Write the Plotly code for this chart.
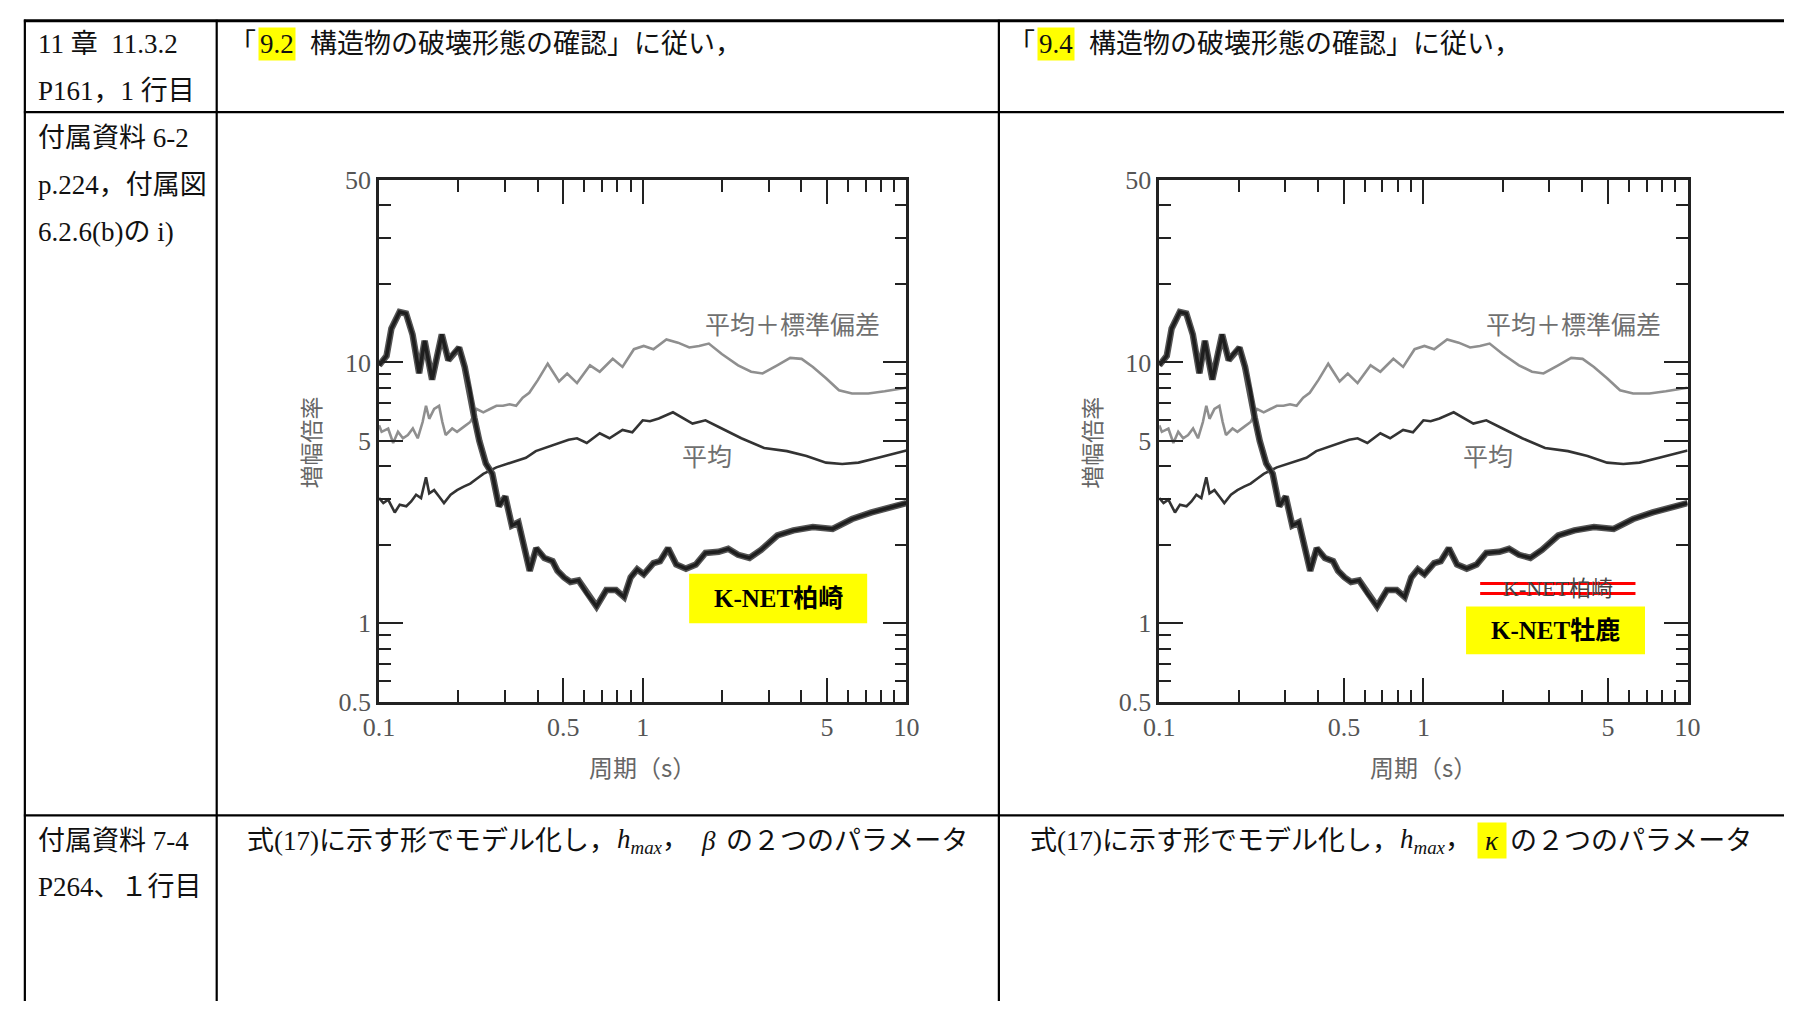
import math
import plotly.graph_objects as go

W, H = 1797, 1016

# ---- data (period [s], amplification) ----
period_msd = [0.1, 0.1023, 0.1083, 0.1131, 0.118, 0.1232, 0.1286, 0.1343, 0.1402, 0.1463,
              0.1507, 0.155, 0.1618, 0.1689, 0.1738, 0.1789, 0.1894, 0.1976, 0.2094, 0.2218,
              0.2347, 0.2486, 0.2634, 0.2787, 0.2952, 0.3127, 0.331, 0.3506, 0.3713, 0.4006,
              0.4362, 0.4816, 0.5172, 0.5634, 0.631, 0.687, 0.7696, 0.838, 0.926, 1.009,
              1.098, 1.23, 1.36, 1.502, 1.636, 1.781, 1.995, 2.30, 2.577, 2.848,
              3.236, 3.625, 4.005, 4.42, 4.957, 5.55, 6.22, 7.17, 8.27, 10.0]
amp_msd = [5.74, 5.42, 5.58, 4.91, 5.42, 5.12, 5.27, 5.58, 5.12, 5.91,
           6.82, 6.08, 6.63, 6.82, 5.91, 5.27, 5.58, 5.42, 5.66, 5.91,
           6.63, 6.44, 6.63, 6.82, 6.82, 6.91, 6.82, 7.32, 7.65, 8.57,
           9.89, 8.45, 9.07, 8.33, 9.75, 9.21, 10.32, 9.61, 11.24, 11.57,
           11.24, 12.25, 11.91, 11.41, 11.57, 11.81, 10.77, 9.75, 9.21, 9.07,
           9.75, 10.41, 10.32, 9.61, 8.70, 7.82, 7.60, 7.60, 7.75, 8.0]

period_mean = [0.1, 0.1038, 0.1083, 0.1147, 0.1198, 0.1269, 0.1324, 0.1382, 0.1443, 0.1507,
               0.155, 0.1618, 0.1689, 0.1763, 0.1868, 0.1976, 0.2094, 0.2218, 0.2347, 0.2486,
               0.2787, 0.3037, 0.331, 0.3607, 0.393, 0.4283, 0.4667, 0.5236, 0.5634, 0.6135,
               0.687, 0.748, 0.838, 0.913, 1.0, 1.065, 1.15, 1.302, 1.545, 1.73,
               1.995, 2.366, 2.887, 3.524, 4.18, 4.957, 5.71, 6.58, 7.81, 10.0]
amp_mean = [3.02, 2.89, 2.98, 2.66, 2.85, 2.81, 2.93, 3.11, 3.02, 3.63,
            3.15, 3.24, 3.06, 2.89, 3.11, 3.24, 3.34, 3.43, 3.58, 3.74,
            3.96, 4.08, 4.19, 4.31, 4.57, 4.70, 4.84, 5.05, 5.12, 4.91,
            5.35, 5.12, 5.51, 5.40, 6.00, 5.95, 6.10, 6.44, 5.83, 6.00,
            5.58, 5.12, 4.70, 4.57, 4.38, 4.13, 4.08, 4.13, 4.31, 4.60]

period_site = [0.1, 0.1068, 0.1114, 0.1196, 0.1266, 0.134, 0.1419, 0.1489, 0.1589, 0.173,
               0.1832, 0.1912, 0.2012, 0.2113, 0.2205, 0.2301, 0.2401, 0.254, 0.2689, 0.2847,
               0.3012, 0.3189, 0.3377, 0.3728, 0.3948, 0.4236, 0.455, 0.475, 0.5025, 0.532,
               0.571, 0.6135, 0.668, 0.7275, 0.792, 0.85, 0.9, 0.953, 1.009, 1.098,
               1.163, 1.248, 1.34, 1.459, 1.59, 1.73, 1.94, 2.11, 2.30, 2.54,
               2.81, 3.24, 3.73, 4.42, 5.25, 6.22, 7.38, 10.0]
amp_site = [9.75, 10.6, 13.5, 15.6, 15.4, 12.8, 9.1, 12.1, 8.6, 12.8,
            10.2, 10.8, 11.4, 9.6, 7.9, 6.1, 5.0, 4.1, 3.74, 2.81,
            3.06, 2.37, 2.44, 1.59, 1.94, 1.78, 1.73, 1.59, 1.50, 1.44,
            1.46, 1.30, 1.16, 1.34, 1.34, 1.26, 1.50, 1.61, 1.54, 1.70,
            1.73, 1.94, 1.68, 1.62, 1.68, 1.86, 1.88, 1.93, 1.83, 1.78,
            1.91, 2.17, 2.27, 2.34, 2.30, 2.51, 2.66, 2.89]

x_tick_vals = [0.1, 0.5, 1, 5, 10]
x_tick_text = ["0.1", "0.5", "1", "5", "10"]
x_minor_vals = [0.2, 0.3, 0.4, 0.6, 0.7, 0.8, 0.9, 2, 3, 4, 6, 7, 8, 9]
y_tick_vals = [0.5, 1, 5, 10, 50]
y_tick_text = ["0.5", "1", "5", "10", "50"]
y_minor_vals = [0.6, 0.7, 0.8, 0.9, 2, 3, 4, 6, 7, 8, 9, 20, 30, 40]

label_msd = "平均＋標準偏差"
label_mean = "平均"
x_title = "周期（s）"
y_title = "増幅倍率"
site_old = "K-NET柏崎"
site_new = "K-NET牡鹿"

SERIF = "Liberation Serif, 'Noto Sans CJK JP'"
CJK = "'Noto Sans CJK JP', sans-serif"


def px(x):
    return x / W


def py(y):
    return 1 - y / H


fig = go.Figure()

panels = [("x", "y"), ("x2", "y2")]
for xa, ya in panels:
    fig.add_trace(go.Scatter(x=period_msd, y=amp_msd, mode="lines",
                             line=dict(color="#8f8f8f", width=2.6),
                             xaxis=xa, yaxis=ya, showlegend=False, hoverinfo="skip"))
    fig.add_trace(go.Scatter(x=period_mean, y=amp_mean, mode="lines",
                             line=dict(color="#333333", width=2.6),
                             xaxis=xa, yaxis=ya, showlegend=False, hoverinfo="skip"))
    fig.add_trace(go.Scatter(x=period_site, y=amp_site, mode="lines",
                             line=dict(color="#555555", width=6.5),
                             xaxis=xa, yaxis=ya, showlegend=False, hoverinfo="skip"))
    fig.add_trace(go.Scatter(x=period_site, y=amp_site, mode="lines",
                             line=dict(color="#1e1e1e", width=3.5),
                             xaxis=xa, yaxis=ya, showlegend=False, hoverinfo="skip"))

TICKFONT = dict(family="Liberation Serif", size=26, color="#555")


def xaxis_cfg(domain, anchor):
    return dict(type="log", domain=domain, anchor=anchor, range=[-1, 1],
                showgrid=False, zeroline=False, showline=True, linecolor="#222",
                linewidth=2.5, mirror="ticks", ticks="inside", ticklen=24,
                tickwidth=2.2, tickcolor="#222", tickmode="array",
                tickvals=x_tick_vals, ticktext=x_tick_text, tickfont=TICKFONT,
                minor=dict(tickmode="array", tickvals=x_minor_vals, ticks="inside",
                           ticklen=12, tickwidth=2, tickcolor="#222", showgrid=False))


def yaxis_cfg(domain, anchor):
    return dict(type="log", domain=domain, anchor=anchor,
                range=[math.log10(0.5), math.log10(50)],
                showgrid=False, zeroline=False, showline=True, linecolor="#222",
                linewidth=2.5, mirror="ticks", ticks="inside", ticklen=24,
                tickwidth=2.2, tickcolor="#222", tickmode="array",
                tickvals=y_tick_vals, ticktext=y_tick_text, tickfont=TICKFONT,
                minor=dict(tickmode="array", tickvals=y_minor_vals, ticks="inside",
                           ticklen=12, tickwidth=2, tickcolor="#222", showgrid=False))


ydom = [py(708), py(171)]
fig.update_layout(
    width=W, height=H, margin=dict(l=0, r=0, t=0, b=0),
    paper_bgcolor="white", plot_bgcolor="white", showlegend=False,
    xaxis=xaxis_cfg([px(369), px(905)], "y"),
    yaxis=yaxis_cfg(ydom, "x"),
    xaxis2=xaxis_cfg([px(1162), px(1699)], "y2"),
    yaxis2=yaxis_cfg(ydom, "x2"),
)

shapes = []
ann = []

# ---- table grid ----
LC = "#000"
shapes.append(dict(type="line", xref="paper", yref="paper", x0=px(8), x1=1, y0=py(7), y1=py(7),
                   line=dict(color=LC, width=3)))
for yy in (101, 825):
    shapes.append(dict(type="line", xref="paper", yref="paper", x0=px(8), x1=1, y0=py(yy), y1=py(yy),
                       line=dict(color=LC, width=2.2)))
for xx in (9, 204, 999):
    shapes.append(dict(type="line", xref="paper", yref="paper", x0=px(xx), x1=px(xx), y0=py(6), y1=0,
                       line=dict(color=LC, width=2.2)))

TS = 27


def txt(x, y, s, size=TS, color="#111", anchor="left", bg=None, family=SERIF, w=None, h=None):
    d = dict(xref="paper", yref="paper", x=px(x), y=py(y), text=s, showarrow=False,
             xanchor=anchor, yanchor="middle", font=dict(family=family, size=size, color=color))
    if bg:
        d.update(bgcolor=bg, borderpad=1)
    if w:
        d.update(width=w, height=h, align="center", valign="middle")
    ann.append(d)


# left column
txt(20, 31, "11 章  11.3.2")
txt(20, 79, "P161，1 行目")
txt(20, 128, "付属資料 6-2")
txt(20, 176, "p.224，付属図")
txt(20, 224, "6.2.6(b)の i)")
txt(20, 851, "付属資料 7-4")
txt(20, 899, "P264、１行目")

# first row, middle / right
for x0, num in ((246, "9.2"), (1038, "9.4")):
    txt(x0, 31, "「", anchor="right")
    txt(x0, 31, num, anchor="left", bg="#ffff00")
    txt(x0 + 51, 31, "構造物の破壊形態の確認」に従い，")

# last row, middle / right
for x0, sym, hl in ((233, "<i>β</i>", None), (1029, "<i>κ</i>", "#ffff00")):
    txt(x0, 851, "式(17)に示す形でモデル化し，")
    txt(x0 + 376, 851, "<i>h<sub>max</sub></i>，")
    if hl:
        txt(x0 + 456, 851, sym, bg=hl, w=26, h=33)
    else:
        txt(x0 + 461, 851, sym)
    txt(x0 + 487, 851, "の２つのパラメータ")

# ---- chart decorations ----
for k, (xa, ya) in enumerate(panels):
    cx = (369 + 905) / 2 if k == 0 else (1162 + 1699) / 2
    ylx = 299 if k == 0 else 1093
    ann.append(dict(xref="paper", yref="paper", x=px(cx), y=py(775), text=x_title, showarrow=False,
                    font=dict(family=CJK, size=24, color="#666"), xanchor="center", yanchor="middle"))
    ann.append(dict(xref="paper", yref="paper", x=px(ylx), y=py(441), text=y_title, showarrow=False,
                    textangle=-90, font=dict(family=CJK, size=23, color="#666"),
                    xanchor="center", yanchor="middle"))
    ann.append(dict(xref=xa, yref=ya, x=math.log10(3.7), y=math.log10(14.2), text=label_msd,
                    showarrow=False, font=dict(family=CJK, size=25, color="#707070"),
                    xanchor="center", yanchor="middle"))
    ann.append(dict(xref=xa, yref=ya, x=math.log10(1.76), y=math.log10(4.4), text=label_mean,
                    showarrow=False, font=dict(family=CJK, size=25, color="#707070"),
                    xanchor="center", yanchor="middle"))

# panel 1 label box
shapes.append(dict(type="rect", xref="x", yref="y", x0=1.5, x1=7.1, y0=1.0, y1=1.55,
                   fillcolor="#ffff00", line=dict(width=0), layer="above"))
ann.append(dict(xref="x", yref="y", x=math.log10(math.sqrt(1.5 * 7.1)), y=math.log10(math.sqrt(1.0 * 1.55)),
                text="<b>" + site_old + "</b>", showarrow=False,
                font=dict(family=SERIF, size=25, color="#000"), xanchor="center", yanchor="middle"))

# panel 2: struck-through old label and new label box
ann.append(dict(xref="x2", yref="y2", x=math.log10(math.sqrt(1.64 * 6.35)), y=math.log10(1.36),
                text=site_old, showarrow=False,
                font=dict(family=SERIF, size=22, color="#444"), xanchor="center", yanchor="middle"))
for yv in (1.42, 1.30):
    shapes.append(dict(type="line", xref="x2", yref="y2", x0=1.64, x1=6.35, y0=yv, y1=yv,
                       line=dict(color="#ff0000", width=3), layer="above"))
shapes.append(dict(type="rect", xref="x2", yref="y2", x0=1.45, x1=6.9, y0=0.76, y1=1.16,
                   fillcolor="#ffff00", line=dict(width=0), layer="above"))
ann.append(dict(xref="x2", yref="y2", x=math.log10(math.sqrt(1.45 * 6.9)), y=math.log10(math.sqrt(0.76 * 1.16)),
                text="<b>" + site_new + "</b>", showarrow=False,
                font=dict(family=SERIF, size=25, color="#000"), xanchor="center", yanchor="middle"))

fig.update_layout(shapes=shapes, annotations=ann)
fig.write_html("out.html", config={"displayModeBar": False},
               post_script="document.body.style.margin='0';document.body.style.overflow='hidden';")
